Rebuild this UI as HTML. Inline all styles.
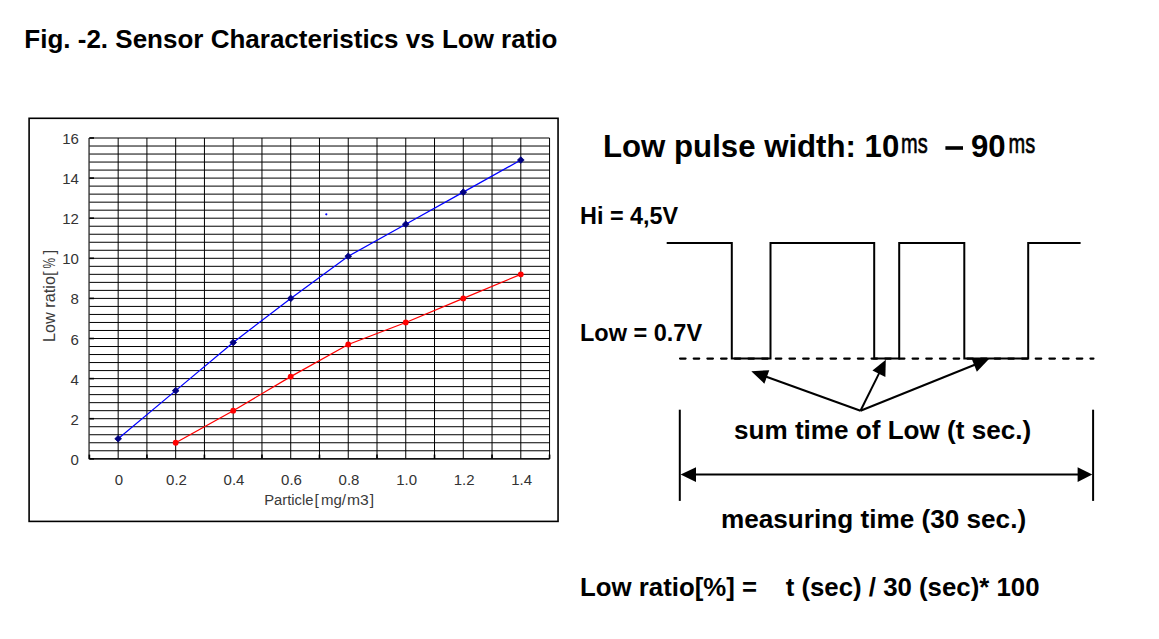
<!DOCTYPE html>
<html><head><meta charset="utf-8"><style>
html,body{margin:0;padding:0;background:#fff;}
svg{display:block;}
text{font-family:"Liberation Sans",sans-serif;fill:#000;}
.ax{font-size:15px;fill:#333;}
.ti{font-size:15.5px;fill:#3a3a3a;}
.ti2{font-size:16.3px;fill:#3a3a3a;}
.b{font-weight:bold;}
.ms{font-family:"Liberation Sans",sans-serif;}
</style></head><body>
<svg width="1159" height="639" viewBox="0 0 1159 639">
<rect width="1159" height="639" fill="#fff"/>
<rect x="29.1" y="118.3" width="528.95" height="403.1" fill="none" stroke="#000" stroke-width="1.6"/>
<line x1="89.40" y1="458.80" x2="549.56" y2="458.80" stroke="#000" stroke-width="1"/>
<line x1="89.40" y1="450.78" x2="549.56" y2="450.78" stroke="#000" stroke-width="1"/>
<line x1="89.40" y1="442.76" x2="549.56" y2="442.76" stroke="#000" stroke-width="1"/>
<line x1="89.40" y1="434.74" x2="549.56" y2="434.74" stroke="#000" stroke-width="1"/>
<line x1="89.40" y1="426.72" x2="549.56" y2="426.72" stroke="#000" stroke-width="1"/>
<line x1="89.40" y1="418.70" x2="549.56" y2="418.70" stroke="#000" stroke-width="1"/>
<line x1="89.40" y1="410.68" x2="549.56" y2="410.68" stroke="#000" stroke-width="1"/>
<line x1="89.40" y1="402.66" x2="549.56" y2="402.66" stroke="#000" stroke-width="1"/>
<line x1="89.40" y1="394.64" x2="549.56" y2="394.64" stroke="#000" stroke-width="1"/>
<line x1="89.40" y1="386.62" x2="549.56" y2="386.62" stroke="#000" stroke-width="1"/>
<line x1="89.40" y1="378.60" x2="549.56" y2="378.60" stroke="#000" stroke-width="1"/>
<line x1="89.40" y1="370.58" x2="549.56" y2="370.58" stroke="#000" stroke-width="1"/>
<line x1="89.40" y1="362.56" x2="549.56" y2="362.56" stroke="#000" stroke-width="1"/>
<line x1="89.40" y1="354.54" x2="549.56" y2="354.54" stroke="#000" stroke-width="1"/>
<line x1="89.40" y1="346.52" x2="549.56" y2="346.52" stroke="#000" stroke-width="1"/>
<line x1="89.40" y1="338.50" x2="549.56" y2="338.50" stroke="#000" stroke-width="1"/>
<line x1="89.40" y1="330.48" x2="549.56" y2="330.48" stroke="#000" stroke-width="1"/>
<line x1="89.40" y1="322.46" x2="549.56" y2="322.46" stroke="#000" stroke-width="1"/>
<line x1="89.40" y1="314.44" x2="549.56" y2="314.44" stroke="#000" stroke-width="1"/>
<line x1="89.40" y1="306.42" x2="549.56" y2="306.42" stroke="#000" stroke-width="1"/>
<line x1="89.40" y1="298.40" x2="549.56" y2="298.40" stroke="#000" stroke-width="1"/>
<line x1="89.40" y1="290.38" x2="549.56" y2="290.38" stroke="#000" stroke-width="1"/>
<line x1="89.40" y1="282.36" x2="549.56" y2="282.36" stroke="#000" stroke-width="1"/>
<line x1="89.40" y1="274.34" x2="549.56" y2="274.34" stroke="#000" stroke-width="1"/>
<line x1="89.40" y1="266.32" x2="549.56" y2="266.32" stroke="#000" stroke-width="1"/>
<line x1="89.40" y1="258.30" x2="549.56" y2="258.30" stroke="#000" stroke-width="1"/>
<line x1="89.40" y1="250.28" x2="549.56" y2="250.28" stroke="#000" stroke-width="1"/>
<line x1="89.40" y1="242.26" x2="549.56" y2="242.26" stroke="#000" stroke-width="1"/>
<line x1="89.40" y1="234.24" x2="549.56" y2="234.24" stroke="#000" stroke-width="1"/>
<line x1="89.40" y1="226.22" x2="549.56" y2="226.22" stroke="#000" stroke-width="1"/>
<line x1="89.40" y1="218.20" x2="549.56" y2="218.20" stroke="#000" stroke-width="1"/>
<line x1="89.40" y1="210.18" x2="549.56" y2="210.18" stroke="#000" stroke-width="1"/>
<line x1="89.40" y1="202.16" x2="549.56" y2="202.16" stroke="#000" stroke-width="1"/>
<line x1="89.40" y1="194.14" x2="549.56" y2="194.14" stroke="#000" stroke-width="1"/>
<line x1="89.40" y1="186.12" x2="549.56" y2="186.12" stroke="#000" stroke-width="1"/>
<line x1="89.40" y1="178.10" x2="549.56" y2="178.10" stroke="#000" stroke-width="1"/>
<line x1="89.40" y1="170.08" x2="549.56" y2="170.08" stroke="#000" stroke-width="1"/>
<line x1="89.40" y1="162.06" x2="549.56" y2="162.06" stroke="#000" stroke-width="1"/>
<line x1="89.40" y1="154.04" x2="549.56" y2="154.04" stroke="#000" stroke-width="1"/>
<line x1="89.40" y1="146.02" x2="549.56" y2="146.02" stroke="#000" stroke-width="1"/>
<line x1="89.40" y1="138.00" x2="549.56" y2="138.00" stroke="#000" stroke-width="1"/>
<line x1="118.16" y1="138.00" x2="118.16" y2="458.80" stroke="#000" stroke-width="1"/>
<line x1="146.92" y1="138.00" x2="146.92" y2="458.80" stroke="#000" stroke-width="1"/>
<line x1="175.68" y1="138.00" x2="175.68" y2="458.80" stroke="#000" stroke-width="1"/>
<line x1="204.44" y1="138.00" x2="204.44" y2="458.80" stroke="#000" stroke-width="1"/>
<line x1="233.20" y1="138.00" x2="233.20" y2="458.80" stroke="#000" stroke-width="1"/>
<line x1="261.96" y1="138.00" x2="261.96" y2="458.80" stroke="#000" stroke-width="1"/>
<line x1="290.72" y1="138.00" x2="290.72" y2="458.80" stroke="#000" stroke-width="1"/>
<line x1="319.48" y1="138.00" x2="319.48" y2="458.80" stroke="#000" stroke-width="1"/>
<line x1="348.24" y1="138.00" x2="348.24" y2="458.80" stroke="#000" stroke-width="1"/>
<line x1="377.00" y1="138.00" x2="377.00" y2="458.80" stroke="#000" stroke-width="1"/>
<line x1="405.76" y1="138.00" x2="405.76" y2="458.80" stroke="#000" stroke-width="1"/>
<line x1="434.52" y1="138.00" x2="434.52" y2="458.80" stroke="#000" stroke-width="1"/>
<line x1="463.28" y1="138.00" x2="463.28" y2="458.80" stroke="#000" stroke-width="1"/>
<line x1="492.04" y1="138.00" x2="492.04" y2="458.80" stroke="#000" stroke-width="1"/>
<line x1="520.80" y1="138.00" x2="520.80" y2="458.80" stroke="#000" stroke-width="1"/>
<line x1="549.56" y1="138.00" x2="549.56" y2="458.80" stroke="#000" stroke-width="1"/>
<line x1="89.05" y1="138.00" x2="89.05" y2="459.30" stroke="#000" stroke-width="1.1"/>
<line x1="89.40" y1="458.80" x2="549.56" y2="458.80" stroke="#000" stroke-width="1.2"/>
<line x1="89.40" y1="458.80" x2="94.00" y2="458.80" stroke="#000" stroke-width="1.6"/>
<line x1="89.40" y1="418.70" x2="94.00" y2="418.70" stroke="#000" stroke-width="1.6"/>
<line x1="89.40" y1="378.60" x2="94.00" y2="378.60" stroke="#000" stroke-width="1.6"/>
<line x1="89.40" y1="338.50" x2="94.00" y2="338.50" stroke="#000" stroke-width="1.6"/>
<line x1="89.40" y1="298.40" x2="94.00" y2="298.40" stroke="#000" stroke-width="1.6"/>
<line x1="89.40" y1="258.30" x2="94.00" y2="258.30" stroke="#000" stroke-width="1.6"/>
<line x1="89.40" y1="218.20" x2="94.00" y2="218.20" stroke="#000" stroke-width="1.6"/>
<line x1="89.40" y1="178.10" x2="94.00" y2="178.10" stroke="#000" stroke-width="1.6"/>
<line x1="89.40" y1="138.00" x2="94.00" y2="138.00" stroke="#000" stroke-width="1.6"/>
<line x1="89.40" y1="458.80" x2="89.40" y2="454.60" stroke="#000" stroke-width="1.6"/>
<line x1="146.92" y1="458.80" x2="146.92" y2="454.60" stroke="#000" stroke-width="1.6"/>
<line x1="204.44" y1="458.80" x2="204.44" y2="454.60" stroke="#000" stroke-width="1.6"/>
<line x1="261.96" y1="458.80" x2="261.96" y2="454.60" stroke="#000" stroke-width="1.6"/>
<line x1="319.48" y1="458.80" x2="319.48" y2="454.60" stroke="#000" stroke-width="1.6"/>
<line x1="377.00" y1="458.80" x2="377.00" y2="454.60" stroke="#000" stroke-width="1.6"/>
<line x1="434.52" y1="458.80" x2="434.52" y2="454.60" stroke="#000" stroke-width="1.6"/>
<line x1="492.04" y1="458.80" x2="492.04" y2="454.60" stroke="#000" stroke-width="1.6"/>
<line x1="549.56" y1="458.80" x2="549.56" y2="454.60" stroke="#000" stroke-width="1.6"/>
<text x="78.9" y="465.30" text-anchor="end" class="ax">0</text>
<text x="78.9" y="425.08" text-anchor="end" class="ax">2</text>
<text x="78.9" y="384.86" text-anchor="end" class="ax">4</text>
<text x="78.9" y="344.64" text-anchor="end" class="ax">6</text>
<text x="78.9" y="304.42" text-anchor="end" class="ax">8</text>
<text x="78.9" y="264.20" text-anchor="end" class="ax">10</text>
<text x="78.9" y="223.98" text-anchor="end" class="ax">12</text>
<text x="78.9" y="183.76" text-anchor="end" class="ax">14</text>
<text x="78.9" y="143.54" text-anchor="end" class="ax">16</text>
<text x="118.96" y="485" text-anchor="middle" class="ax">0</text>
<text x="176.48" y="485" text-anchor="middle" class="ax">0.2</text>
<text x="234.00" y="485" text-anchor="middle" class="ax">0.4</text>
<text x="291.52" y="485" text-anchor="middle" class="ax">0.6</text>
<text x="349.04" y="485" text-anchor="middle" class="ax">0.8</text>
<text x="406.56" y="485" text-anchor="middle" class="ax">1.0</text>
<text x="464.08" y="485" text-anchor="middle" class="ax">1.2</text>
<text x="521.60" y="485" text-anchor="middle" class="ax">1.4</text>
<text x="264.2" y="504.9" class="ti" textLength="49.2" lengthAdjust="spacingAndGlyphs">Particle</text>
<text x="314.6" y="504.9" class="ti">[</text>
<text x="321.0" y="504.9" class="ti" textLength="25" lengthAdjust="spacingAndGlyphs">mg/</text>
<text x="347.0" y="504.9" class="ti" textLength="21.8" lengthAdjust="spacingAndGlyphs">m3</text>
<text x="369.8" y="504.9" class="ti">]</text>
<g transform="translate(55,340.8) rotate(-90)"><text x="-1.2" y="0" class="ti2" textLength="66" lengthAdjust="spacingAndGlyphs">Low ratio</text><text x="64.9" y="0" class="ti2">[</text><text x="72.4" y="0" class="ti2" textLength="10.6" lengthAdjust="spacingAndGlyphs">%</text><text x="86.5" y="0" class="ti2">]</text></g>
<polyline points="118.16,438.75 175.68,390.63 233.20,342.51 290.72,298.40 348.24,256.30 405.76,224.22 463.28,192.13 520.80,160.06" fill="none" stroke="#0000FF" stroke-width="1.25"/>
<polyline points="175.68,442.76 233.20,410.68 290.72,376.60 348.24,344.51 405.76,322.46 463.28,298.40 520.80,274.34" fill="none" stroke="#FF0000" stroke-width="1.25"/>
<polygon points="114.76,438.75 118.16,435.45 121.56,438.75 118.16,442.05" fill="#000080" stroke="#000080" stroke-width="0.8" stroke-linejoin="round"/>
<polygon points="172.28,390.63 175.68,387.33 179.08,390.63 175.68,393.93" fill="#000080" stroke="#000080" stroke-width="0.8" stroke-linejoin="round"/>
<polygon points="229.80,342.51 233.20,339.21 236.60,342.51 233.20,345.81" fill="#000080" stroke="#000080" stroke-width="0.8" stroke-linejoin="round"/>
<polygon points="287.32,298.40 290.72,295.10 294.12,298.40 290.72,301.70" fill="#000080" stroke="#000080" stroke-width="0.8" stroke-linejoin="round"/>
<polygon points="344.84,256.30 348.24,253.00 351.64,256.30 348.24,259.60" fill="#000080" stroke="#000080" stroke-width="0.8" stroke-linejoin="round"/>
<polygon points="402.36,224.22 405.76,220.91 409.16,224.22 405.76,227.52" fill="#000080" stroke="#000080" stroke-width="0.8" stroke-linejoin="round"/>
<polygon points="459.88,192.13 463.28,188.83 466.68,192.13 463.28,195.44" fill="#000080" stroke="#000080" stroke-width="0.8" stroke-linejoin="round"/>
<polygon points="517.40,160.06 520.80,156.75 524.20,160.06 520.80,163.36" fill="#000080" stroke="#000080" stroke-width="0.8" stroke-linejoin="round"/>
<circle cx="175.68" cy="442.76" r="2.9" fill="#FF0000"/>
<circle cx="233.20" cy="410.68" r="2.9" fill="#FF0000"/>
<circle cx="290.72" cy="376.60" r="2.9" fill="#FF0000"/>
<circle cx="348.24" cy="344.51" r="2.9" fill="#FF0000"/>
<circle cx="405.76" cy="322.46" r="2.9" fill="#FF0000"/>
<circle cx="463.28" cy="298.40" r="2.9" fill="#FF0000"/>
<circle cx="520.80" cy="274.34" r="2.9" fill="#FF0000"/>
<circle cx="326.3" cy="214.3" r="1.1" fill="#0000FF"/>
<text x="24.3" y="47.6" class="b" font-size="26">Fig. -2. Sensor Characteristics vs Low ratio</text>
<text x="603" y="157.1" class="b" font-size="31.2">Low pulse width: 10</text>
<text transform="translate(901,152.5) scale(1,1.4)" class="ms" font-size="20" stroke="#000" stroke-width="0.45">ms</text>
<rect x="945.4" y="146.2" width="17.6" height="3.6" fill="#000"/>
<text x="971" y="157.1" class="b" font-size="31.2">90</text>
<text transform="translate(1008.5,152.5) scale(1,1.4)" class="ms" font-size="20" stroke="#000" stroke-width="0.45">ms</text>
<text x="580" y="224.2" class="b" font-size="23.4">Hi = 4,5V</text>
<text x="580" y="340.7" class="b" font-size="23.5">Low = 0.7V</text>
<polyline points="666.7,242.9 731.8,242.9 731.8,358.4 770.5,358.4 770.5,242.9 874.2,242.9 874.2,358.4 899.2,358.4 899.2,242.9 964.3,242.9 964.3,358.4 1028.2,358.4 1028.2,242.9 1080.6,242.9" fill="none" stroke="#000" stroke-width="2" stroke-linejoin="miter"/>
<line x1="680" y1="358.6" x2="1093.5" y2="358.6" stroke="#000" stroke-width="2.1" stroke-linecap="round" stroke-dasharray="5.6 8.08"/>
<line x1="860.5" y1="410.8" x2="764.94" y2="376.23" stroke="#000" stroke-width="2"/>
<polygon points="751.30,371.30 769.27,370.14 764.37,383.68" fill="#000"/>
<line x1="860.5" y1="410.8" x2="879.80" y2="371.89" stroke="#000" stroke-width="2"/>
<polygon points="885.80,359.80 885.36,376.89 872.46,370.49" fill="#000"/>
<line x1="860.5" y1="410.8" x2="976.02" y2="364.23" stroke="#000" stroke-width="2"/>
<polygon points="989.00,359.00 976.85,371.66 971.47,358.30" fill="#000"/>
<line x1="679.8" y1="409.7" x2="679.8" y2="500.9" stroke="#000" stroke-width="2"/>
<line x1="1093.1" y1="409.7" x2="1093.1" y2="500.9" stroke="#000" stroke-width="2"/>
<line x1="690" y1="474.6" x2="1082" y2="474.6" stroke="#000" stroke-width="2"/>
<polygon points="680.6,474.6 696,467.2 696,482.0" fill="#000"/>
<polygon points="1092.3,474.6 1077.6,467.2 1077.6,482.0" fill="#000"/>
<text x="734" y="439" class="b" font-size="26.1">sum time of Low (t sec.)</text>
<text x="721" y="528" class="b" font-size="26.15">measuring time (30 sec.)</text>
<text x="580" y="596" class="b" font-size="25.8" xml:space="preserve">Low ratio[%] =    t (sec) / 30 (sec)* 100</text>
</svg></body></html>
